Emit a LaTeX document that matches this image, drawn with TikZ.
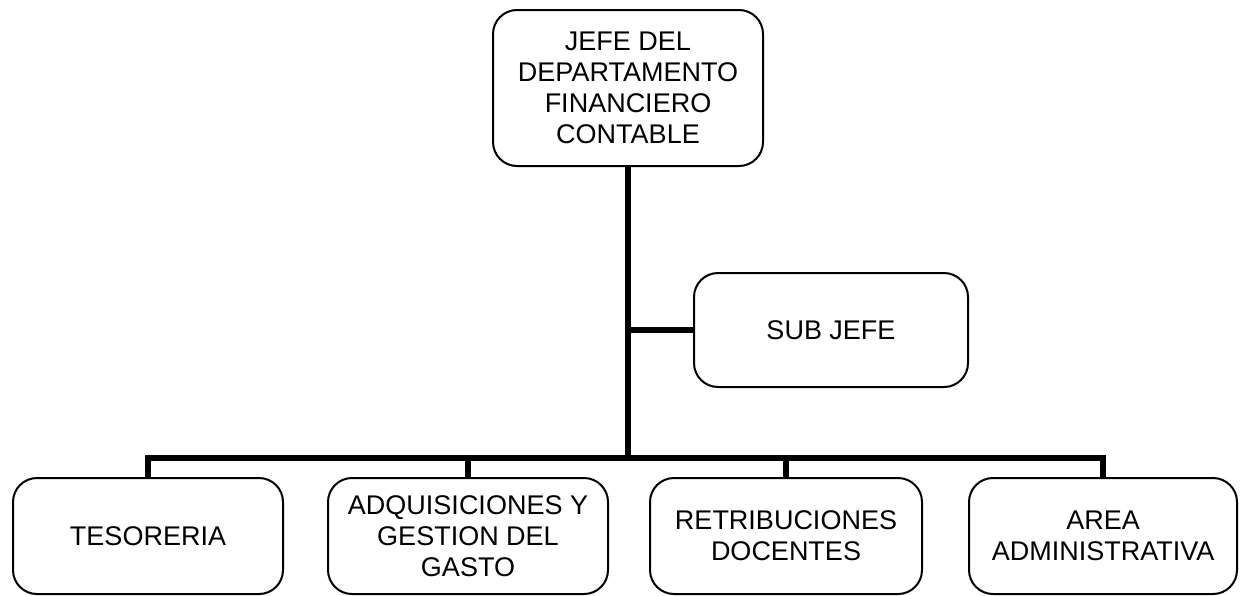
\documentclass[tikz,border=0pt]{standalone}
\usepackage{fontspec}
\setmainfont{Liberation Sans}

\begin{document}
\begin{tikzpicture}[x=0.5pt,y=-0.5pt]
\tikzstyle{box}=[rectangle, draw, rounded corners=12pt, line width=1pt, align=center, inner sep=2pt, font=\fontsize{13.5}{15.5}\selectfont]
\tikzstyle{link}=[line width=3.3pt]

\useasboundingbox (0,0) rectangle (1241,595);

\node[box, minimum width=135pt, minimum height=78pt] (jefe) at (628,88) {JEFE DEL\\DEPARTAMENTO\\FINANCIERO\\CONTABLE};
\node[box, minimum width=137pt, minimum height=57pt] (sub) at (831,330) {SUB JEFE};

\node[box, minimum width=135pt, minimum height=58pt] (tes) at (148,536) {TESORERIA};
\node[box, minimum width=140pt, minimum height=58pt] (adq) at (468,536) {ADQUISICIONES Y\\GESTION DEL\\GASTO};
\node[box, minimum width=136pt, minimum height=58pt] (ret) at (786,536) {RETRIBUCIONES\\DOCENTES};
\node[box, minimum width=134pt, minimum height=58pt] (area) at (1103,536) {AREA\\ADMINISTRATIVA};

\coordinate (bus) at (628,458);

\draw[link] (jefe.south) -- (bus);
\draw[link] (sub.west) -- (sub.west -| bus);
\draw[link] (tes.north) |- (bus) -| (area.north);
\draw[link] (adq.north) -- (adq.north |- bus);
\draw[link] (ret.north) -- (ret.north |- bus);
\end{tikzpicture}
\end{document}
